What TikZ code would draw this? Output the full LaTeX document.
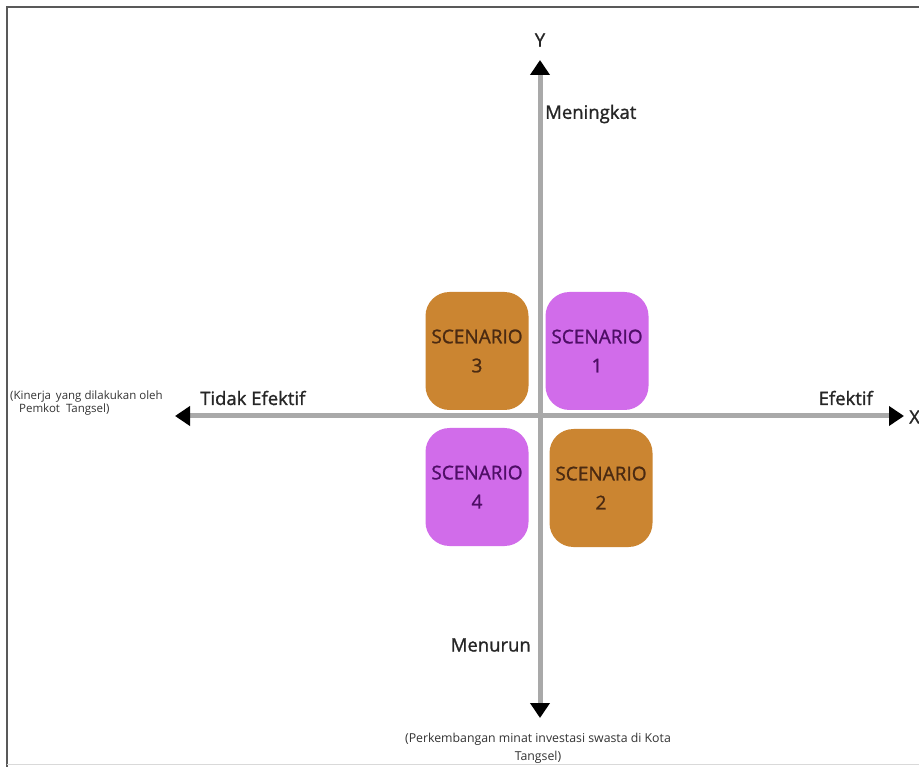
\documentclass[tikz,border=0pt]{standalone}
\usepackage{fontspec}
\setmainfont{Open Sans}
\newfontfamily\medfont{Open Sans}[FakeBold=1.2]
\usetikzlibrary{arrows.meta}
\definecolor{axisgray}{HTML}{A9A9A9}
\definecolor{brownbox}{HTML}{CB8531}
\definecolor{purplebox}{HTML}{D16CEA}
\definecolor{browntext}{HTML}{4A2A12}
\definecolor{purpletext}{HTML}{4E0E66}
\tikzset{
  axis/.style={draw=axisgray, line width=5pt, -{Triangle[length=15pt,width=19pt,color=black]}},
  scen/.style={rounded corners=24pt, minimum width=103pt, minimum height=118pt, inner sep=0pt, align=center, font=\medfont\fontsize{19}{29}\selectfont},
  brownscen/.style={scen, fill=brownbox, text=browntext},
  purplescen/.style={scen, fill=purplebox, text=purpletext},
  lbl/.style={font=\medfont\fontsize{18.5}{18}\selectfont, text=black!85, inner sep=0pt},
  small/.style={font=\fontsize{11.5}{13}\selectfont, text=black!80, inner sep=0pt, align=left},
  note/.style={font=\fontsize{12.3}{18}\selectfont, text=black!80, inner sep=0pt, align=center}
}
\begin{document}
\begin{tikzpicture}[x=1pt,y=-1pt]
\useasboundingbox (0,0) rectangle (919,767);
\fill[white] (0,0) rectangle (919,767);
% frame
\draw[black!65, line width=1.5pt] (7,767) -- (7,7) -- (919,7);
\draw[black!15, line width=1pt] (7,764) -- (919,764);
% axis end points
\coordinate (xl) at (175,416);
\coordinate (xr) at (904,416);
\coordinate (yt) at (540,60);
\coordinate (yb) at (540,718);
\coordinate (o) at (540,416);
\draw[axis] (o) -- (xl);
\draw[axis] (o) -- (xr);
\draw[axis] (o) -- (yt);
\draw[axis] (o) -- (yb);
% boxes
\node[brownscen] (s3) at (477,351) {SCENARIO\\3};
\node[purplescen] (s1) at (597,351) {SCENARIO\\1};
\node[purplescen] (s4) at (477,487) {SCENARIO\\4};
\node[brownscen] (s2) at (601,488) {SCENARIO\\2};
% labels
\node[lbl] (ylab) at (540,40) {Y};
\node[lbl, anchor=west] (xlab) at (909,417) {X};
\node[lbl, anchor=west] (men) at (545,114) {Meningkat};
\node[lbl, anchor=east] (tur) at (531,645) {Menurun};
\node[lbl, anchor=west] (tde) at (200,398) {Tidak Efektif};
\node[lbl, anchor=east] (efk) at (873,398) {Efektif};
\node[small, anchor=west] (kin) at (10,403) {(Kinerja\, yang dilakukan oleh\\\ \ \ Pemkot\ \ Tangsel)};
\node[note] (per) at (538,748) {(Perkembangan minat investasi swasta di Kota\\Tangsel)};
\end{tikzpicture}
\end{document}
